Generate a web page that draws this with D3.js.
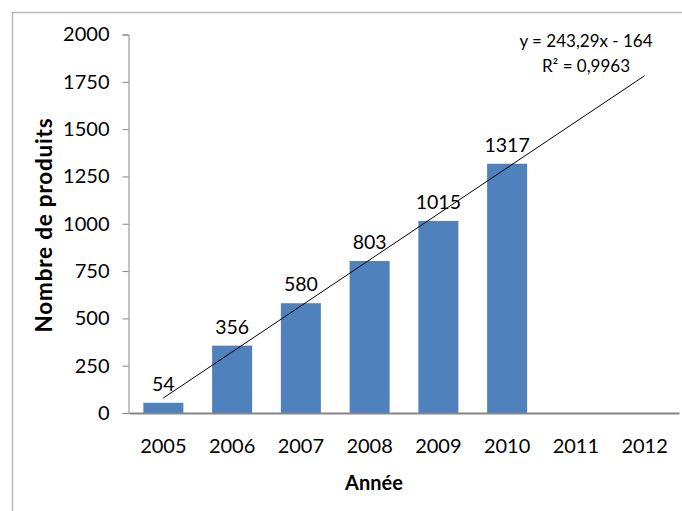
<!DOCTYPE html>
<html>
<head>
<meta charset="utf-8">
<script src="https://cdn.jsdelivr.net/npm/d3@7"></script>
<style>
    body { margin: 0; background: #fff; }
    svg { display: block; font-family: Lato, "Open Sans", sans-serif; }
</style>
</head>
<body>
<div id="svgcontainer"></div>
<script>
const years = ["2005", "2006", "2007", "2008", "2009", "2010", "2011", "2012"]
const products = [54, 356, 580, 803, 1015, 1317, null, null]
const yTicks = [0, 250, 500, 750, 1000, 1250, 1500, 1750, 2000]
const trendSlope = 243.29
const trendIntercept = -164
const trendLabels = ["y = 243,29x - 164", "R² = 0,9963"]

const WIDTH = 682
const HEIGHT = 511
const LEFT = 129
const RIGHT = 679
const TOP = 34.5
const BOTTOM = 413

const svg = d3.select("#svgcontainer")
    .append("svg")
    .attr("width", WIDTH)
    .attr("height", HEIGHT)

// chart frame, cut off at the right and bottom
svg.append("path")
    .attr("d", `M12.5,${HEIGHT} V12.5 H${WIDTH}`)
    .attr("fill", "none")
    .attr("stroke", "#b9b9b9")
    .attr("stroke-width", 1.5)

let x = d3.scaleBand()
    .domain(years)
    .range([LEFT, RIGHT])
    .paddingInner(0.418)
    .paddingOuter(0.209)

let y = d3.scaleLinear()
    .domain([0, 2000])
    .range([BOTTOM, TOP])

// y axis
let yAxis = svg.append("g")
    .attr("transform", `translate(${LEFT - 0.5},0)`)
    .call(d3.axisLeft(y)
        .tickValues(yTicks)
        .tickFormat(d3.format("d"))
        .tickSize(6)
        .tickPadding(13)
        .tickSizeOuter(6))
yAxis.select(".domain").attr("stroke", "#868686")
yAxis.selectAll(".tick line").attr("stroke", "#868686")
yAxis.selectAll(".tick text")
    .attr("font-size", 20)
    .attr("font-family", "Lato")
    .attr("fill", "#000")

let points = years.map((yr, i) => ({ year: yr, value: products[i] })).filter(d => d.value != null)

// bars
svg.append("g")
    .selectAll("rect")
    .data(points)
    .join("rect")
        .attr("x", d => x(d.year))
        .attr("y", d => y(d.value))
        .attr("width", x.bandwidth())
        .attr("height", d => BOTTOM - y(d.value))
        .attr("fill", "#4f81bd")

// x axis
let xAxis = svg.append("g")
    .attr("transform", `translate(0,${BOTTOM})`)
    .call(d3.axisBottom(x).tickSize(0).tickPadding(26))
xAxis.select(".domain").attr("stroke", "#868686").attr("stroke-width", 2)
xAxis.selectAll(".tick text")
    .attr("font-size", 20)
    .attr("font-family", "Lato")
    .attr("fill", "#000")

// data labels
svg.append("g")
    .selectAll("text")
    .data(points)
    .join("text")
        .attr("x", d => x(d.year) + x.bandwidth() / 2)
        .attr("y", d => y(d.value) - 12)
        .attr("text-anchor", "middle")
        .attr("font-size", 19.5)
        .text(d => d.value)

// linear trend line, x = 1 for 2005 ... 8 for 2012
let first = 1, last = years.length
let cx = i => x(years[i - 1]) + x.bandwidth() / 2
svg.append("line")
    .attr("x1", cx(first))
    .attr("y1", y(trendSlope * first + trendIntercept))
    .attr("x2", cx(last))
    .attr("y2", y(trendSlope * last + trendIntercept))
    .attr("stroke", "#000")
    .attr("stroke-width", 1)

svg.append("g")
    .selectAll("text")
    .data(trendLabels)
    .join("text")
        .attr("x", 586)
        .attr("y", (d, i) => 47 + i * 25)
        .attr("text-anchor", "middle")
        .attr("font-size", 17)
        .text(d => d)

// axis titles
svg.append("text")
    .attr("x", 374)
    .attr("y", 490)
    .attr("text-anchor", "middle")
    .attr("font-size", 20)
    .attr("font-weight", "bold")
    .text("Année")

svg.append("text")
    .attr("transform", "translate(52,225) rotate(-90)")
    .attr("text-anchor", "middle")
    .attr("font-size", 22.5)
    .attr("font-weight", "bold")
    .attr("letter-spacing", 0.8)
    .text("Nombre de produits")
</script>
</body>
</html>
